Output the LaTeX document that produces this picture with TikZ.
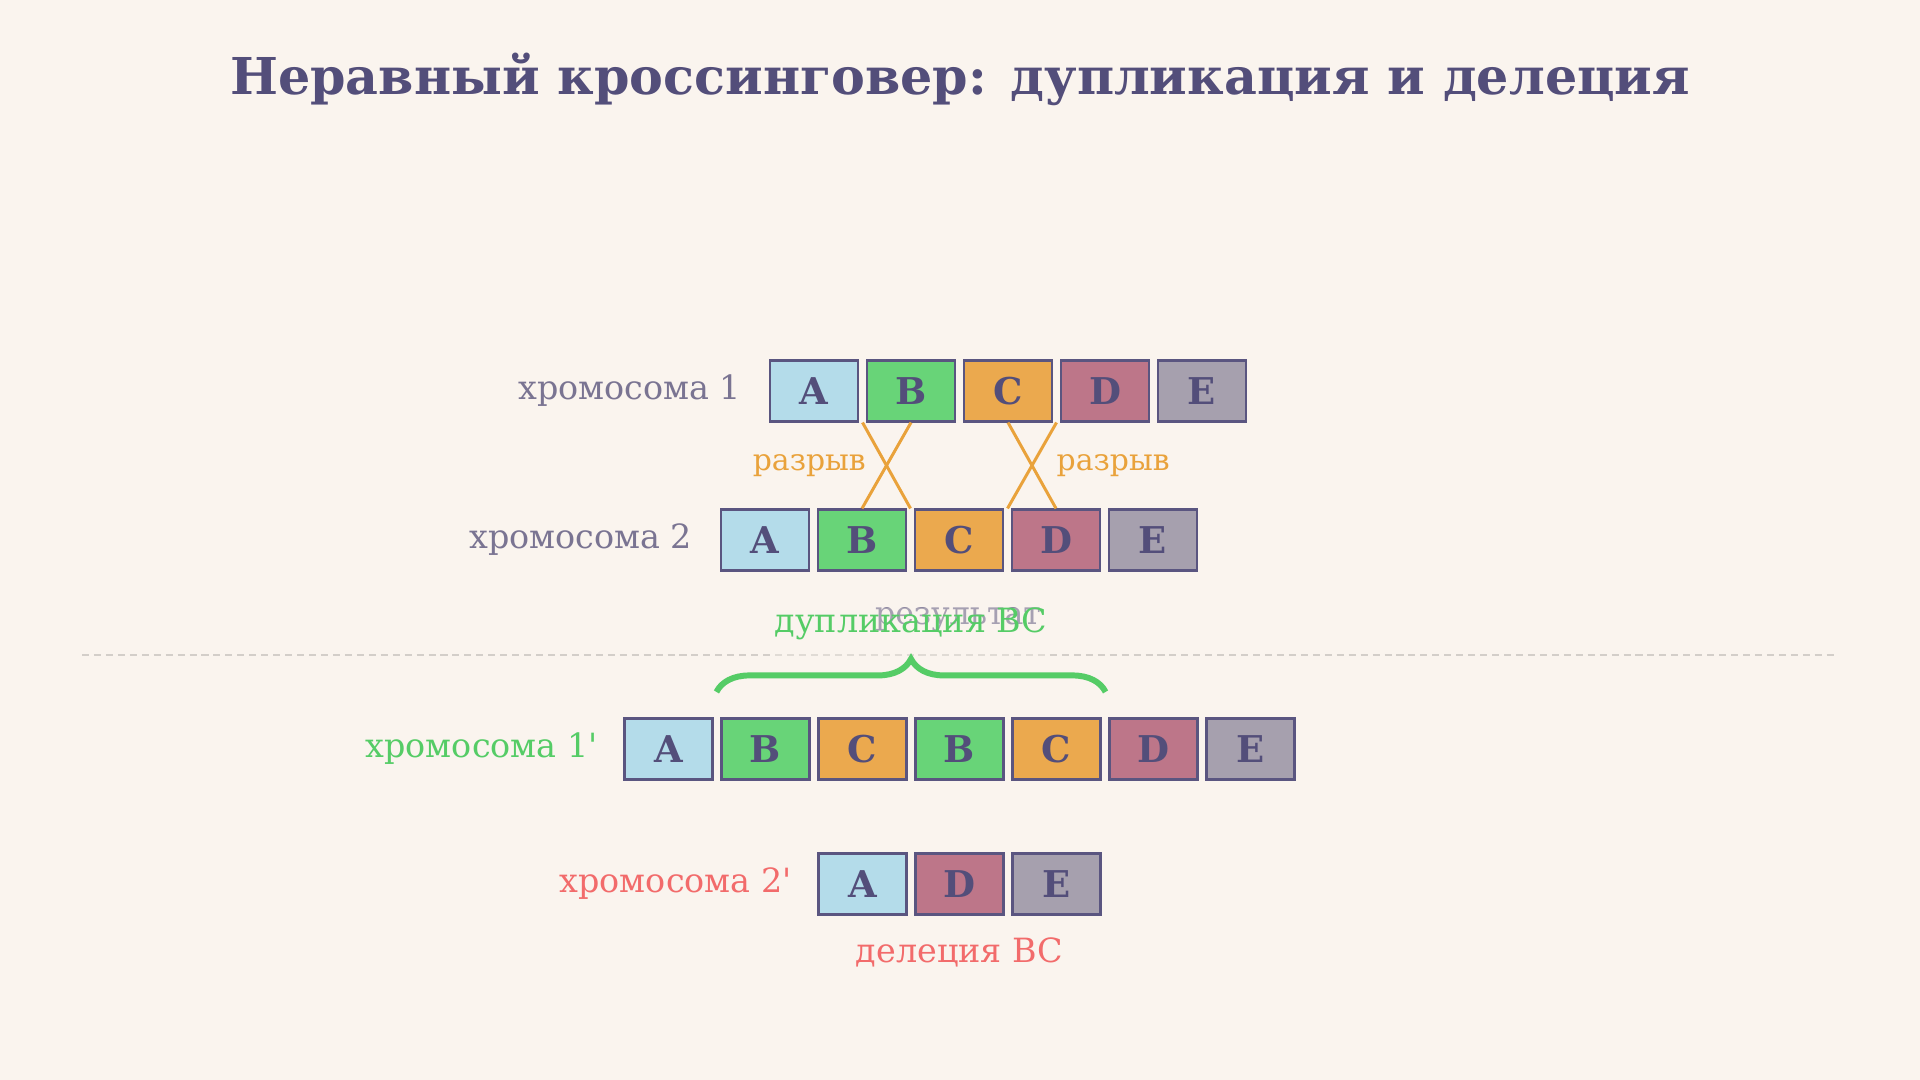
\documentclass[tikz,border=0pt]{standalone}
\usepackage{fontspec}
\setmainfont{DejaVu Serif}[Ligatures=TeXOff]
\usepackage{tikz}
\usetikzlibrary{positioning, calc, decorations.pathreplacing}

\definecolor{bg}{HTML}{FAF4EE}
\definecolor{ink}{HTML}{534E7A}
\definecolor{edge}{HTML}{5A5580}
\definecolor{grayt}{HTML}{7A7492}
\definecolor{cutcol}{HTML}{E9A23B}
\definecolor{dupcol}{HTML}{55CC66}
\definecolor{delcol}{HTML}{F26B6B}
\definecolor{sepcol}{HTML}{D3CEC9}
\definecolor{gA}{HTML}{B4DCEA}
\definecolor{gB}{HTML}{68D478}
\definecolor{gC}{HTML}{EBA94E}
\definecolor{gD}{HTML}{BD7689}
\definecolor{gE}{HTML}{A6A0AE}

\begin{document}
\begin{tikzpicture}[
    gene/.style={draw=edge, line width=0.6pt, minimum width=0.88cm, minimum height=0.61cm, inner sep=0pt, text=ink, font=\fontsize{10.5}{12}\selectfont\bfseries},
    lab/.style={inner sep=0pt, font=\fontsize{9.5}{11}\selectfont},
    brk/.style={inner sep=0pt, text=cutcol, font=\fontsize{8.5}{10}\selectfont},
    cut/.style={draw=cutcol, line width=0.85pt},
    sep/.style={draw=sepcol, line width=0.57pt, dash pattern=on 2pt off 1.4pt}
  ]
    \fill[bg] (0,0) rectangle (19.2,10.8);
    \useasboundingbox (0,0) rectangle (19.2,10.8);

    \node[anchor=base, text=ink, font=\fontsize{14.45}{16}\selectfont\bfseries] at (9.6, 9.85) (title) {Неравный кроссинговер: дупликация и делеция};

    % хромосома 1
    \node[gene, fill=gA] at (8.14, 6.89)   (a1) {A};
    \node[gene, fill=gB] at (9.11, 6.89)   (b1) {B};
    \node[gene, fill=gC] at (10.08, 6.89)  (c1) {C};
    \node[gene, fill=gD] at (11.05, 6.89)  (d1) {D};
    \node[gene, fill=gE] at (12.02, 6.89)  (e1) {E};

    % хромосома 2
    \node[gene, fill=gA] at (7.65, 5.40)   (a2) {A};
    \node[gene, fill=gB] at (8.62, 5.40)   (b2) {B};
    \node[gene, fill=gC] at (9.59, 5.40)   (c2) {C};
    \node[gene, fill=gD] at (10.56, 5.40)  (d2) {D};
    \node[gene, fill=gE] at (11.53, 5.40)  (e2) {E};

    \node[lab, text=grayt, left=0.27 of a1] (t1) {хромосома 1};
    \node[lab, text=grayt, left=0.27 of a2] (t2) {хромосома 2};

    % места разрыва
    \coordinate (s1) at ($(a1.south east)!0.5!(b1.south west)$);
    \coordinate (s2) at ($(b2.north east)!0.5!(c2.north west)$);
    \coordinate (s3) at ($(c1.south east)!0.5!(d1.south west)$);
    \coordinate (s4) at ($(c2.north east)!0.5!(d2.north west)$);
    \coordinate (k1) at ($(s1)!0.5!(s2)$);
    \coordinate (k2) at ($(s3)!0.5!(s4)$);

    \draw [cut] (s1) -- (s2);
    \draw [cut] (b1.south) -- (b2.north);
    \draw [cut] (c1.south) -- (d2.north);
    \draw [cut] (s3) -- (s4);

    \node[brk, left=0.2 of k1] (r1) {разрыв};
    \node[brk, right=0.24 of k2] (r2) {разрыв};

    % результат
    \draw [sep] (0.82, 4.25) -- (18.37, 4.25);
    \node[lab, text=grayt, font=\fontsize{9}{11}\selectfont, anchor=base] at (9.58, 4.55) (res) {результат};

    % хромосома 1'
    \node[gene, fill=gA] at (6.685, 3.31)  (a3) {A};
    \node[gene, fill=gB] at (7.655, 3.31)  (b3) {B};
    \node[gene, fill=gC] at (8.625, 3.31)  (c3) {C};
    \node[gene, fill=gB] at (9.595, 3.31)  (bb3) {B};
    \node[gene, fill=gC] at (10.565, 3.31) (cc3) {C};
    \node[gene, fill=gD] at (11.535, 3.31) (d3) {D};
    \node[gene, fill=gE] at (12.505, 3.31) (e3) {E};

    % хромосома 2'
    \node[gene, fill=gA] at (8.625, 1.96)  (a4) {A};
    \node[gene, fill=gD] at (9.595, 1.96)  (d4) {D};
    \node[gene, fill=gE] at (10.565, 1.96) (e4) {E};

    \node[lab, text=dupcol, left=0.25 of a3] (t3) {хромосома 1'};
    \node[lab, text=delcol, left=0.25 of a4] (t4) {хромосома 2'};

    \node[lab, text=dupcol, anchor=base, fill=bg, fill opacity=0.35, text opacity=1, text depth=0.27cm] at (9.11, 4.47) (dup) {дупликация BC};
    \coordinate (u1) at ($(b3.north west)+(-0.04,0.255)$);
    \coordinate (u2) at ($(cc3.north east)+(0.04,0.255)$);
    \draw [dupcol, line width=1.7pt, decorate, decoration={brace, amplitude=0.33cm}] (u1) -- (u2);

    \node[lab, text=delcol, below=0.215 of d4] (del) {делеция BC};
\end{tikzpicture}
\end{document}
